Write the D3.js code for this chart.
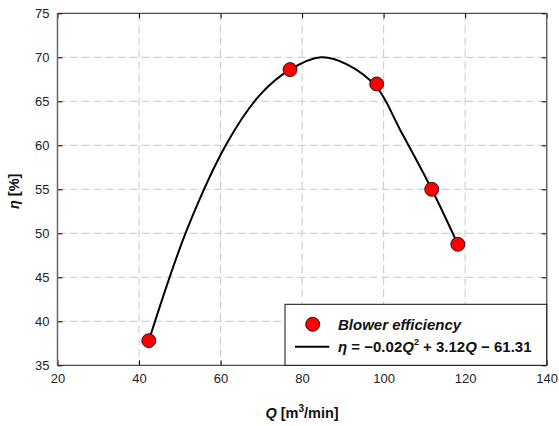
<!DOCTYPE html>
<html>
<head>
<meta charset="utf-8">
<script src="https://cdn.jsdelivr.net/npm/d3@7"></script>
<style>
  body { margin: 0; background: #fff; }
  text { font-family: "Liberation Sans", Arial, sans-serif; }
</style>
</head>
<body>
<div id="chart"></div>
<script>
// measured blower points
const flowQ = [42.4, 77.05, 98.3, 111.8, 118.2];
const efficiency = [37.8, 68.6, 66.97, 55.0, 48.75];

// fitted curve
const curveQ = [42.4, 52, 62, 70, 77.05, 84.6, 91, 98.3, 104, 111.8, 118.2];
const curveEta = [37.8, 50.7, 60.6, 65.9, 68.6, 70.0, 69.2, 66.6, 61.8, 55.0, 48.75];

const xTicks = [20, 40, 60, 80, 100, 120, 140];
const yTicks = [35, 40, 45, 50, 55, 60, 65, 70, 75];

const W = 559, H = 426;
const pL = 57.5, pR = 546.7, pT = 13.3, pB = 365.3;

const svg = d3.select("#chart").append("svg")
    .attr("width", W)
    .attr("height", H);

const x = d3.scaleLinear().domain([20, 140]).range([pL, pR]);
const y = d3.scaleLinear().domain([35, 75]).range([pB, pT]);

// grid
svg.append("g")
    .selectAll("line")
    .data(xTicks.slice(1, -1))
    .enter().append("line")
    .attr("x1", d => x(d)).attr("x2", d => x(d))
    .attr("y1", pT).attr("y2", pB)
    .attr("stroke", "#c8c8c8")
    .attr("stroke-dasharray", "8,4");

svg.append("g")
    .selectAll("line")
    .data(yTicks.slice(1, -1))
    .enter().append("line")
    .attr("x1", pL).attr("x2", pR)
    .attr("y1", d => y(d)).attr("y2", d => y(d))
    .attr("stroke", "#c8c8c8")
    .attr("stroke-dasharray", "8,4");

// axes with inward ticks
const fmt = d3.format("d");
const ax = [
    { a: d3.axisBottom(x).tickValues(xTicks).tickSize(-5).tickPadding(8).tickFormat(fmt), t: `translate(0,${pB})` },
    { a: d3.axisTop(x).tickValues(xTicks).tickSize(-5).tickFormat(""), t: `translate(0,${pT})` },
    { a: d3.axisLeft(y).tickValues(yTicks).tickSize(-5).tickPadding(8).tickFormat(fmt), t: `translate(${pL},0)` },
    { a: d3.axisRight(y).tickValues(yTicks).tickSize(-5).tickFormat(""), t: `translate(${pR},0)` }
];
ax.forEach(o => {
    const g = svg.append("g").attr("transform", o.t).call(o.a);
    g.select(".domain").remove();
    g.selectAll(".tick line").attr("stroke", "#000");
    g.selectAll(".tick text")
        .attr("font-family", "'Liberation Sans', Arial, sans-serif")
        .attr("font-size", 13)
        .attr("fill", "#222");
});

// frame
svg.append("line").attr("x1", pL).attr("x2", pR).attr("y1", pT).attr("y2", pT).attr("stroke", "#222");
svg.append("line").attr("x1", pL).attr("x2", pR).attr("y1", pB).attr("y2", pB).attr("stroke", "#222");
svg.append("line").attr("x1", pL).attr("x2", pL).attr("y1", pT).attr("y2", pB).attr("stroke", "#666").attr("stroke-width", 1.5);
svg.append("line").attr("x1", pR).attr("x2", pR).attr("y1", pT).attr("y2", pB).attr("stroke", "#666").attr("stroke-width", 1.5);

// fit curve
const line = d3.line()
    .x((d, i) => x(curveQ[i]))
    .y(d => y(d))
    .curve(d3.curveCatmullRom.alpha(0.5));

svg.append("path")
    .datum(curveEta)
    .attr("d", line)
    .attr("fill", "none")
    .attr("stroke", "#000")
    .attr("stroke-width", 2);

// markers
svg.append("g")
    .selectAll("circle")
    .data(efficiency)
    .enter().append("circle")
    .attr("cx", (d, i) => x(flowQ[i]))
    .attr("cy", d => y(d))
    .attr("r", 7)
    .attr("fill", "#ff0000")
    .attr("stroke", "#000")
    .attr("stroke-width", 0.8);

// axis titles
const xt = svg.append("text")
    .attr("x", (pL + pR) / 2)
    .attr("y", 418)
    .attr("text-anchor", "middle")
    .attr("font-size", 14.5)
    .attr("font-weight", "bold")
    .attr("fill", "#111");
xt.append("tspan").attr("font-style", "italic").text("Q");
xt.append("tspan").text(" [m");
xt.append("tspan").attr("font-size", 10).attr("dy", -6).text("3");
xt.append("tspan").attr("dy", 6).text("/min]");

const yt = svg.append("text")
    .attr("transform", `translate(19,${(pT + pB) / 2 + 2}) rotate(-90)`)
    .attr("text-anchor", "middle")
    .attr("font-size", 14.5)
    .attr("font-weight", "bold")
    .attr("fill", "#111");
yt.append("tspan").attr("font-style", "italic").text("η");
yt.append("tspan").text(" [%]");

// legend
const lg = svg.append("g");
lg.append("rect")
    .attr("x", 285).attr("y", 304.3)
    .attr("width", pR - 285).attr("height", pB - 304.3)
    .attr("fill", "#fff")
    .attr("stroke", "#111");

lg.append("circle")
    .attr("cx", 312.7).attr("cy", 324.3).attr("r", 7)
    .attr("fill", "#ff0000").attr("stroke", "#000").attr("stroke-width", 0.8);
lg.append("text")
    .attr("x", 338).attr("y", 330)
    .attr("font-size", 15).attr("font-weight", "bold").attr("font-style", "italic")
    .attr("fill", "#111")
    .text("Blower efficiency");

lg.append("line")
    .attr("x1", 295).attr("x2", 329.3)
    .attr("y1", 346.7).attr("y2", 346.7)
    .attr("stroke", "#000").attr("stroke-width", 2);
const ft = lg.append("text")
    .attr("x", 338).attr("y", 352)
    .attr("font-size", 15).attr("font-weight", "bold")
    .attr("fill", "#111");
ft.append("tspan").attr("font-style", "italic").text("η");
ft.append("tspan").text(" = −0.02");
ft.append("tspan").attr("font-style", "italic").text("Q");
ft.append("tspan").attr("font-size", 9).attr("dy", -7).text("2");
ft.append("tspan").attr("dy", 7).text(" + 3.12");
ft.append("tspan").attr("font-style", "italic").text("Q");
ft.append("tspan").text(" − 61.31");
</script>
</body>
</html>
